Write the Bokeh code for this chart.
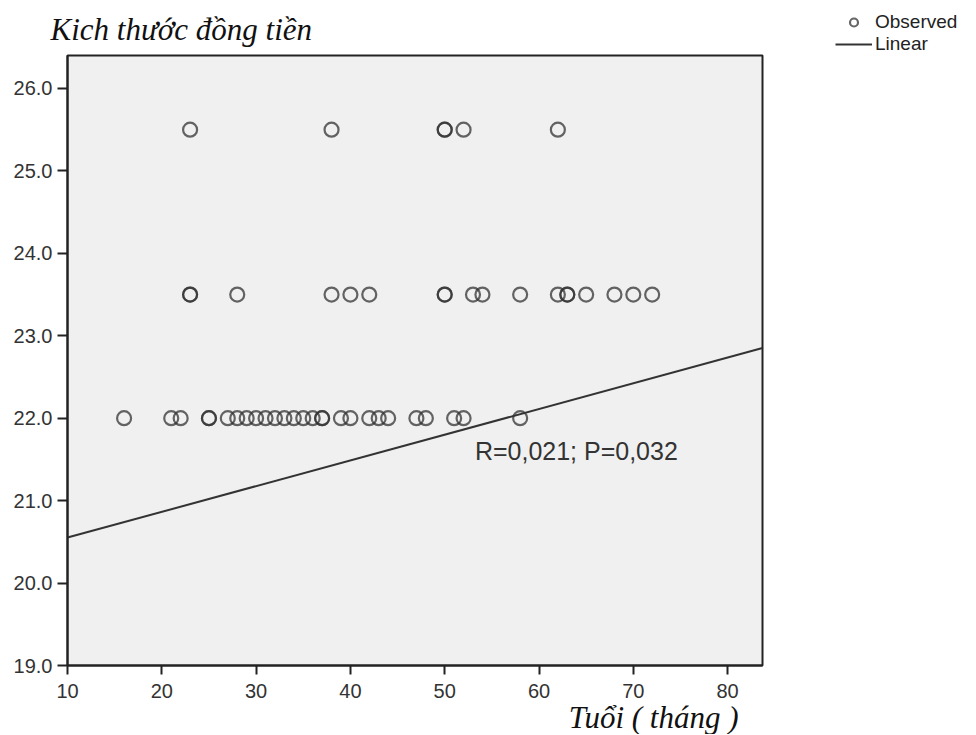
from bokeh.plotting import figure
from bokeh.layouts import row
from bokeh.models import Label, Legend, LegendItem, Range1d, FixedTicker, NumeralTickFormatter, Title
from bokeh.embed import file_html
from bokeh.resources import INLINE
import numpy as np

# ---- data ----
age_22 = [16, 21, 22, 25, 25, 27, 28, 29, 30, 31, 32, 33, 34, 35, 36, 37, 37, 39, 40, 42, 43, 44, 47, 48, 51, 52, 58]
age_235 = [23, 23, 28, 38, 40, 42, 50, 50, 53, 54, 58, 62, 63, 63, 65, 68, 70, 72]
age_255 = [23, 38, 50, 50, 52, 62]
size_levels = [22.0, 23.5, 25.5]

fit_intercept = 20.24
fit_slope = 0.0312

x_ticks = [10, 20, 30, 40, 50, 60, 70, 80]
y_ticks = [19, 20, 21, 22, 23, 24, 25, 26]
x_lo, x_hi = 10, 83.7
y_lo, y_hi = 19, 26.40

y_title = "Kich thước đồng tiền"
x_title = "Tuổi ( tháng )"
stat_text = "R=0,021; P=0,032"
legend_labels = ["Observed", "Linear"]

xs = age_22 + age_235 + age_255
ys = [size_levels[0]] * len(age_22) + [size_levels[1]] * len(age_235) + [size_levels[2]] * len(age_255)
lx = np.array([x_lo, x_hi])
ly = fit_intercept + fit_slope * lx

circle_style = dict(marker="circle", size=14, fill_color=None,
                    line_color="#333333", line_width=2.2, line_alpha=0.75)
line_style = dict(line_color="#333333", line_width=2)

# ---- main plot ----
p = figure(width=830, height=734, output_backend="svg", toolbar_location=None,
           x_range=Range1d(x_lo, x_hi), y_range=Range1d(y_lo, y_hi))
p.min_border_left = 67
p.min_border_right = 68
p.min_border_top = 55
p.min_border_bottom = 69
p.background_fill_color = "#f0f0f0"
p.border_fill_color = "white"
p.outline_line_color = "#222222"
p.outline_line_width = 2
p.xgrid.visible = False
p.ygrid.visible = False

for ax in (p.xaxis[0], p.yaxis[0]):
    ax.axis_line_color = "#222222"
    ax.axis_line_width = 2
    ax.major_tick_line_color = "#222222"
    ax.major_tick_line_width = 2
    ax.major_tick_in = 0
    ax.minor_tick_line_color = None
    ax.major_label_text_font = "Liberation Sans"
    ax.major_label_text_font_size = "20px"
    ax.major_label_text_color = "#333333"

p.xaxis.ticker = FixedTicker(ticks=x_ticks)
p.yaxis.ticker = FixedTicker(ticks=y_ticks)
p.yaxis.formatter = NumeralTickFormatter(format="0.0")
p.xaxis.major_tick_out = 9
p.xaxis.major_label_standoff = 9
p.yaxis.major_tick_out = 10
p.yaxis.major_label_standoff = 5

p.scatter(xs, ys, **circle_style)
p.line(lx, ly, **line_style)

p.add_layout(Label(x=53.2, y=21.6, text=stat_text, text_font="Liberation Sans",
                   text_font_size="25px", text_color="#333333", text_baseline="middle"))

p.add_layout(Title(text=y_title, align="left", offset=-17, standoff=18,
                   text_font="Liberation Serif", text_font_style="italic",
                   text_font_size="31px", text_color="#111111"), "above")
p.add_layout(Title(text=x_title, align="right", offset=24, standoff=-6,
                   text_font="Liberation Serif", text_font_style="italic",
                   text_font_size="31px", text_color="#111111"), "below")

# ---- legend panel (separate canvas to the right of the plot) ----
pl = figure(width=146, height=80, output_backend="svg", toolbar_location=None,
            x_axis_location=None, y_axis_location=None,
            x_range=Range1d(1000, 1001), y_range=Range1d(1000, 1001))
pl.min_border_left = 5
pl.min_border_top = 21
pl.min_border_right = 0
pl.min_border_bottom = 0
pl.outline_line_color = None
pl.background_fill_color = "white"
pl.border_fill_color = "white"
pl.xgrid.visible = False
pl.ygrid.visible = False
sc_l = pl.scatter(xs, ys, **circle_style)
ln_l = pl.line(lx, ly, **line_style)

legend = Legend(items=[LegendItem(label=legend_labels[0], renderers=[sc_l]),
                       LegendItem(label=legend_labels[1], renderers=[ln_l])],
                location="top_left", orientation="vertical",
                glyph_width=37, glyph_height=20, label_height=20, label_standoff=3,
                spacing=0, padding=0, margin=0,
                label_text_font="Liberation Sans", label_text_font_size="19px",
                label_text_color="#222222",
                background_fill_alpha=0, border_line_alpha=0)
pl.add_layout(legend, "center")

layout = row(p, pl)
open("out.html", "w").write(file_html(layout, INLINE))
